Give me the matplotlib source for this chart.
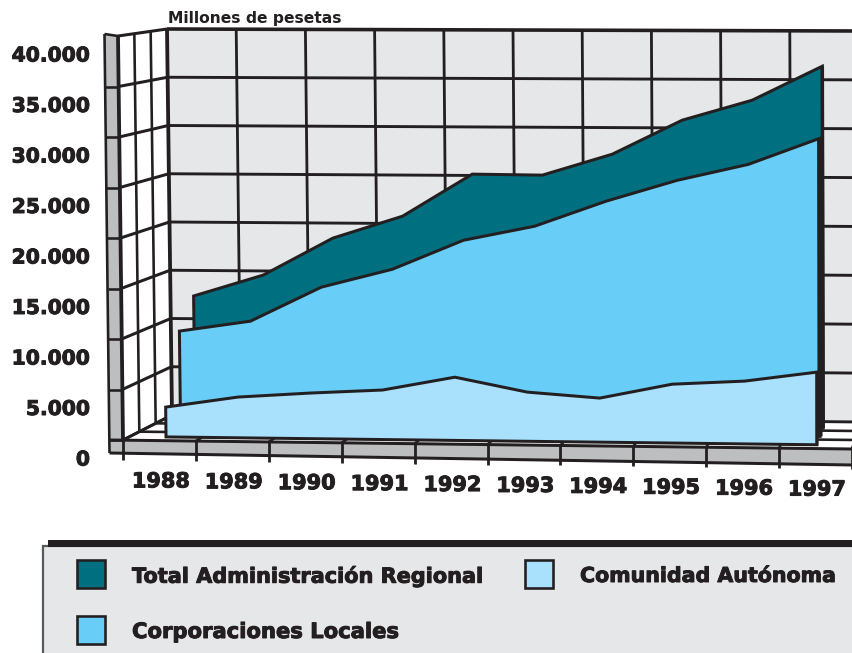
import matplotlib
matplotlib.use("Agg")
import matplotlib.pyplot as plt
from matplotlib.patches import Polygon, Rectangle
import matplotlib.patheffects as pe

years = ["1988", "1989", "1990", "1991", "1992", "1993", "1994", "1995", "1996", "1997"]
total = [12840, 15040, 18870, 21160, 25490, 25430, 27600, 31090, 33150, 36620]
corporaciones = [9900, 10970, 14460, 16320, 19290, 20750, 23300, 25440, 27080, 29720]
comunidad = [2970, 4050, 4530, 4910, 6260, 4860, 4350, 5800, 6180, 7140]
value_ticks = [0, 5000, 10000, 15000, 20000, 25000, 30000, 35000, 40000]
value_labels = ["0", "5.000", "10.000", "15.000", "20.000", "25.000", "30.000", "35.000", "40.000"]
unit_label = "Millones de pesetas"
legend_labels = ["Total Administración Regional", "Corporaciones Locales", "Comunidad Autónoma"]

INK = "#231F20"
WALL = "#E6E7E9"
BAND = "#BCBEC0"
TEAL = "#007081"
MID = "#69CEF7"
LIGHT = "#A9E0FB"
FONT = "DejaVu Sans"
PX = 0.72
VMAX = 40000.0
NCAT = 10
HEAVY = [pe.withStroke(linewidth=0.7, foreground=INK)]


def project(i, v, d):
    """Category position i, value v, depth d (0 front, 1 back) to canvas pixels."""
    t = v / VMAX
    xf = (123 + 72.9 * i) * (1 - t) + (118 + 73.4 * i) * t
    xb = (172 + 68.8 * i) * (1 - t) + (167 + 69.2 * i) * t
    yf = (440 + 0.9 * i) * (1 - t) + (36 + 0.3 * i) * t
    yb = (415 + 0.7 * i) * (1 - t) + (29 + 0.2 * i) * t
    return (xf * (1 - d) + xb * d, yf * (1 - d) + yb * d)


fig = plt.figure(figsize=(8.52, 6.53), dpi=100)
ax = fig.add_axes([0, 0, 1, 1])
ax.set_xlim(0, 852)
ax.set_ylim(653, 0)
ax.axis("off")


def line(points, lw=2.6, z=3, color=INK):
    ax.plot([p[0] for p in points], [p[1] for p in points], color=color,
            lw=lw * PX, solid_capstyle="butt", solid_joinstyle="miter", zorder=z)


# Back wall
ax.add_patch(Polygon([project(0, 0, 1), project(0, VMAX, 1), project(NCAT, VMAX, 1), project(NCAT, 0, 1)],
                     fc=WALL, ec="none", zorder=1))
# Left wall band
band = [project(0, 0, 0), project(0, VMAX, 0)]
band_pts = [(band[1][0] - 13.5, band[1][1] - 2), band[1], band[0], (band[0][0], band[0][1] + 13),
            (band[0][0] - 13.5, band[0][1] + 13)]
ax.add_patch(Polygon(band_pts, fc=BAND, ec="none", zorder=1))
# Front strip
strip = [project(0, 0, 0), project(NCAT, 0, 0)]
ax.add_patch(Polygon([(strip[0][0] - 13.5, strip[0][1]), strip[1], (strip[1][0], strip[1][1] + 16),
                      (strip[0][0] - 13.5, strip[0][1] + 13)], fc=BAND, ec="none", zorder=1))
line([(band_pts[0][0], band_pts[0][1]), (band_pts[4][0], band_pts[4][1])], lw=2.6)
line([(strip[0][0] - 13.5, strip[0][1] + 13), (strip[1][0], strip[1][1] + 16)], lw=3.0)
line([(strip[0][0] - 13.5, strip[0][1]), strip[1]], lw=3.0)

# Horizontal grid: back wall, left wall, band
for v in value_ticks:
    line([project(0, v, 1), project(NCAT, v, 1)], lw=3.6 if v == VMAX else 2.9)
    line([project(0, v, 1), project(0, v, 0)], lw=3.0)
    front = project(0, v, 0)
    line([(front[0] - 13.5, front[1] - (2 if v == VMAX else 0)), front], lw=2.6)
# Vertical grid on back wall
for i in range(NCAT + 1):
    line([project(i, 0, 1), project(i, VMAX, 1)], lw=3.8 if i == 0 else 2.8)
# Left wall verticals
for d in (0, 1 / 3, 2 / 3):
    line([project(0, 0, d), project(0, VMAX, d)], lw=3.8 if d == 0 else 2.6)
# Floor grid
for d in (1 / 3, 2 / 3):
    line([project(0, 0, d), project(NCAT, 0, d)], lw=2.6)
for i in range(NCAT + 1):
    line([project(i, 0, 0), project(i, 0, 1)], lw=2.6)
    a = project(i, 0, 0)
    line([a, (a[0], a[1] + 20)], lw=2.8, z=3)

# Series areas, rear to front
layers = [(total, 0.76, TEAL, 7, 3.5), (corporaciones, 0.45, MID, 8, 5.0), (comunidad, 0.14, LIGHT, 9, 2.8)]
for values, depth, colour, z, side in layers:
    pos = [k + 0.5 for k in range(NCAT)]
    top = [project(p, val, depth) for p, val in zip(pos, values)]
    bottom = [project(pos[-1], 0, depth), project(pos[0], 0, depth)]
    ax.add_patch(Polygon(top + bottom, fc=colour, ec=INK, lw=3.0 * PX, joinstyle="miter", zorder=z))
    line([top[-1], bottom[0]], lw=side, z=z + 0.1)

# Value labels
for v, lab in zip(value_ticks, value_labels):
    x, y = project(0, v, 0)
    ax.text(90, y + 20, lab, ha="right", va="center", fontsize=14.6, fontweight="bold",
            family=FONT, color=INK, zorder=12, path_effects=HEAVY)
# Year labels
for k, lab in enumerate(years):
    x, y = project(k + 0.5, 0, 0)
    ax.text(x + 1.5, y + 41, lab, ha="center", va="center", fontsize=15, fontweight="bold",
            family=FONT, color=INK, zorder=12, path_effects=HEAVY)
ax.text(168, 18, unit_label, ha="left", va="center", fontsize=11.2, fontweight="bold",
        family=FONT, color=INK, zorder=12)

# Legend
ax.add_patch(Rectangle((43, 546), 812, 110, fc=WALL, ec="#58595B", lw=1.6, zorder=10))
ax.add_patch(Rectangle((48, 540), 806, 7, fc=INK, ec="none", zorder=11))
keys = [(77, 560, TEAL, legend_labels[0], 132, 15.0), (77, 616, MID, legend_labels[1], 132, 15.2),
        (525, 560, LIGHT, legend_labels[2], 580, 14.8)]
for kx, ky, colour, lab, tx, size in keys:
    ax.add_patch(Rectangle((kx, ky), 28, 28, fc=colour, ec=INK, lw=2.6 * PX, zorder=12))
    ax.text(tx, ky + 16, lab, ha="left", va="center", fontsize=size, fontweight="bold",
            family=FONT, color=INK, zorder=12, path_effects=HEAVY)

fig.savefig("out.png", dpi=100, facecolor="white")
